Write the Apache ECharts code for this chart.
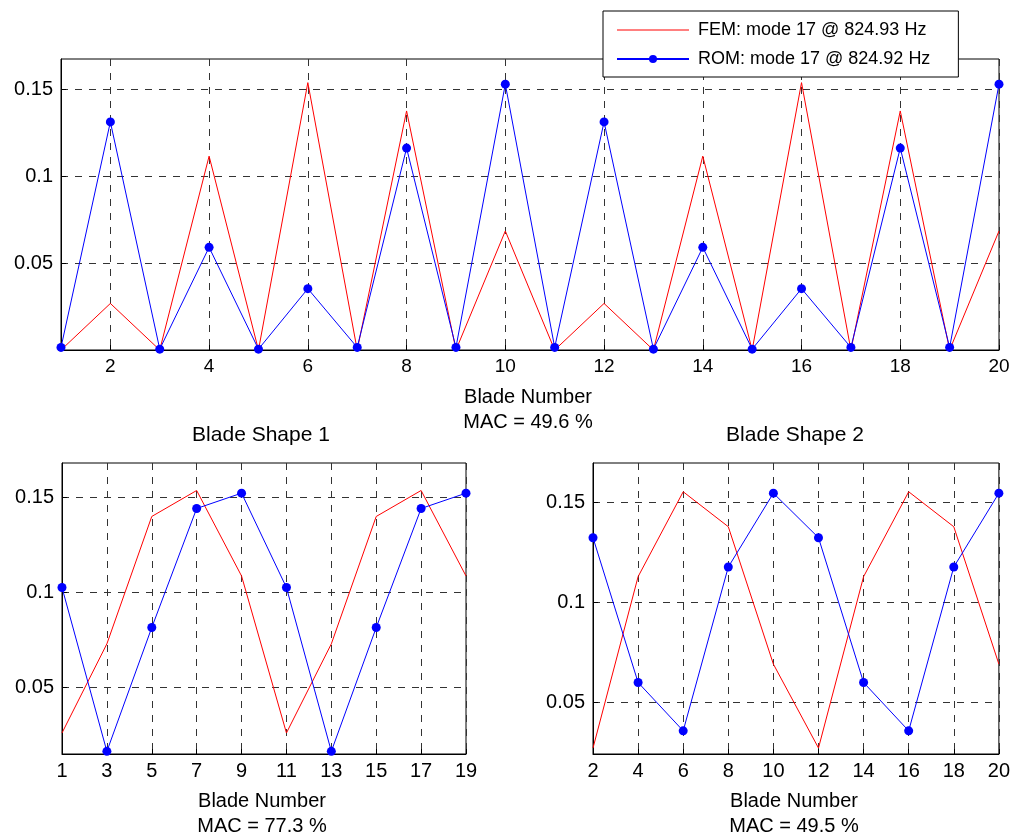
<!DOCTYPE html>
<html>
<head>
<meta charset="utf-8">
<script src="https://cdn.jsdelivr.net/npm/echarts@6/dist/echarts.min.js"></script>
<style>html,body{margin:0;padding:0;background:#fff}#c{width:1013px;height:838px}</style>
</head>
<body>
<div id="c"></div>
<script>
// ---- data ----
var bladesAll = ['1','2','3','4','5','6','7','8','9','10','11','12','13','14','15','16','17','18','19','20'];
var femTop = [0, 0.0268, 0, 0.1116, 0, 0.1539, 0, 0.1376, 0, 0.0685, 0, 0.0268, 0, 0.1116, 0, 0.1539, 0, 0.1376, 0, 0.0685];
var romTop = [0.0015, 0.1313, 0.0005, 0.0591, 0.0005, 0.0353, 0.0015, 0.1162, 0.0015, 0.1530, 0.0015, 0.1313, 0.0005, 0.0591, 0.0005, 0.0353, 0.0015, 0.1162, 0.0015, 0.1530];

var bladesOdd = ['1','3','5','7','9','11','13','15','17','19'];
var femShape1 = [0.0258, 0.0728, 0.1400, 0.1537, 0.1086, 0.0258, 0.0728, 0.1400, 0.1537, 0.1086];
var romShape1 = [0.1025, 0.0161, 0.0814, 0.1442, 0.1523, 0.1025, 0.0161, 0.0814, 0.1442, 0.1523];

var bladesEven = ['2','4','6','8','10','12','14','16','18','20'];
var femShape2 = [0.0272, 0.1130, 0.1555, 0.1380, 0.0692, 0.0272, 0.1130, 0.1555, 0.1380, 0.0692];
var romShape2 = [0.1325, 0.0600, 0.0358, 0.1178, 0.1548, 0.1325, 0.0600, 0.0358, 0.1178, 0.1548];

var yTicks = [0.05, 0.1, 0.15];
var femName = 'FEM: mode 17 @ 824.93 Hz';
var romName = 'ROM: mode 17 @ 824.92 Hz';
var macTop = 'MAC = 49.6 %', mac1 = 'MAC = 77.3 %', mac2 = 'MAC = 49.5 %';
var title1 = 'Blade Shape 1', title2 = 'Blade Shape 2', xName = 'Blade Number';

// ---- chart ----
var FONT = '"Liberation Sans", Arial, sans-serif';
var gridLine = {show: true, lineStyle: {color: '#333', width: 1, type: [7, 7]}};

function xAxis(gi, cats, filterFn, fs) {
  return {
    type: 'category', gridIndex: gi, data: cats, boundaryGap: false,
    axisLine: {show: true, lineStyle: {color: '#000', width: 1}},
    axisTick: {show: true, inside: true, length: 5, interval: filterFn, lineStyle: {color: '#000'}},
    axisLabel: {interval: filterFn, margin: 7, color: '#000', fontSize: fs, fontFamily: FONT},
    splitLine: Object.assign({interval: filterFn}, gridLine)
  };
}
function yAxis(gi, mn, mx, fs) {
  return {
    type: 'value', gridIndex: gi, min: mn, max: mx,
    axisLine: {show: true, lineStyle: {color: '#000', width: 1}},
    axisTick: {show: true, inside: true, length: 5, customValues: yTicks, lineStyle: {color: '#000'}},
    axisLabel: {customValues: yTicks, margin: 8, color: '#000', fontSize: fs, fontFamily: FONT,
      formatter: function (v) { return String(+v.toFixed(3)); }},
    splitLine: gridLine
  };
}
function femSeries(i, d) {
  return {name: femName, type: 'line', xAxisIndex: i, yAxisIndex: i, data: d, symbol: 'none',
    lineStyle: {color: '#ff0000', width: 1}, itemStyle: {color: '#ff0000'}, clip: false, animation: false};
}
function romSeries(i, d) {
  return {name: romName, type: 'line', xAxisIndex: i, yAxisIndex: i, data: d, symbol: 'circle', symbolSize: 9,
    showAllSymbol: true,
    lineStyle: {color: '#0000ff', width: 1}, itemStyle: {color: '#0000ff'}, clip: false, animation: false};
}
function txt(x, y, t, fs) {
  return {type: 'text', x: x, y: y, z: 100,
    style: {text: t, fill: '#000', fontSize: fs, fontFamily: FONT, align: 'center', verticalAlign: 'middle',
      textAlign: 'center', textVerticalAlign: 'middle'}};
}

var chart = echarts.init(document.getElementById('c'), null, {renderer: 'canvas'});
var evenOnly = function (idx, val) { return (+val) % 2 === 0; };
var all = function () { return true; };

chart.setOption({
  animation: false,
  backgroundColor: '#fff',
  grid: [
    {left: 61, top: 59, width: 938, height: 291, show: true, borderColor: '#000', borderWidth: 1, containLabel: false},
    {left: 62, top: 463, width: 404, height: 291, show: true, borderColor: '#000', borderWidth: 1, containLabel: false},
    {left: 593, top: 463, width: 406, height: 291, show: true, borderColor: '#000', borderWidth: 1, containLabel: false}
  ],
  xAxis: [xAxis(0, bladesAll, evenOnly, 19), xAxis(1, bladesOdd, all, 20), xAxis(2, bladesEven, all, 20)],
  yAxis: [yAxis(0, 0, 0.1675, 20), yAxis(1, 0.0147, 0.1682, 20), yAxis(2, 0.0242, 0.1699, 20)],
  legend: {
    left: 603, top: 11, orient: 'vertical',
    padding: [10, 28, 9, 13], itemGap: 11, itemWidth: 72, itemHeight: 10,
    backgroundColor: '#fff', borderColor: '#000', borderWidth: 1, borderRadius: 0,
    textStyle: {color: '#000', fontSize: 18, fontFamily: FONT, padding: [0, 0, 0, 4]},
    data: [
      {name: femName, itemStyle: {color: 'rgba(0,0,0,0)', borderWidth: 0}, lineStyle: {color: '#ff0000', width: 1}},
      {name: romName}
    ],
    selectedMode: false
  },
  series: [femSeries(0, femTop), romSeries(0, romTop), femSeries(1, femShape1), romSeries(1, romShape1),
    femSeries(2, femShape2), romSeries(2, romShape2)],
  graphic: [
    txt(528, 397, xName, 20), txt(528, 422, macTop, 20),
    txt(261, 435, title1, 21), txt(262, 801, xName, 20), txt(262, 826, mac1, 20),
    txt(795, 435, title2, 21), txt(794, 801, xName, 20), txt(794, 826, mac2, 20)
  ]
});
</script>
</body>
</html>
